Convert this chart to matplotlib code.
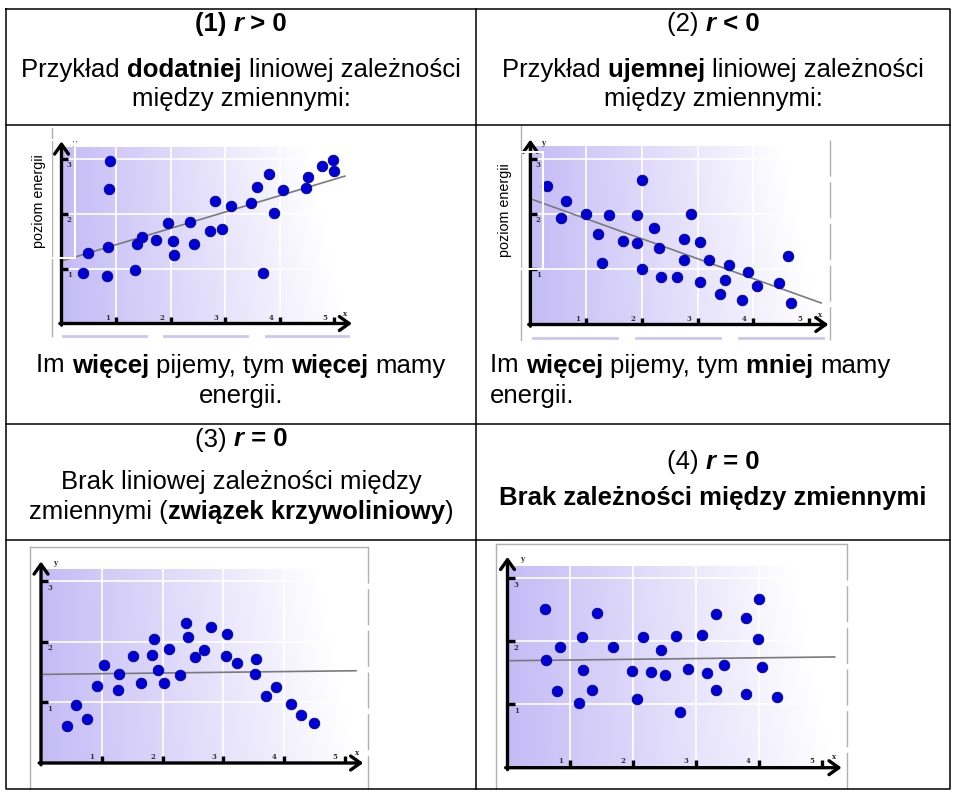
import numpy as np
import matplotlib.pyplot as plt
from matplotlib.lines import Line2D
from matplotlib.patches import Rectangle

plt.rcParams['font.family'] = ['Liberation Sans', 'DejaVu Sans']

# DANE
p1_x = [0.40, 0.49, 0.83, 0.86, 0.89, 0.88, 1.34, 1.38, 1.48, 1.73, 1.95, 2.05, 2.07, 2.36, 2.43,
        2.73, 2.82, 2.94, 3.11, 3.48, 3.58, 3.70, 3.81, 3.90, 4.06, 4.49, 4.52, 4.78, 4.98, 5.00]
p1_y = [0.91, 1.29, 0.87, 1.39, 2.95, 2.45, 0.98, 1.45, 1.58, 1.51, 1.82, 1.50, 1.25, 1.85, 1.45,
        1.68, 2.22, 1.71, 2.13, 2.19, 2.49, 0.92, 2.72, 2.01, 2.43, 2.46, 2.66, 2.87, 2.97, 2.78]
p1_trend_x = [0.0, 5.2]
p1_trend_y = [1.135, 2.68]

p2_x = [0.29, 0.64, 0.55, 1.00, 1.41, 1.21, 1.28, 1.67, 1.92, 1.92, 2.01, 2.01, 2.22, 2.31, 2.35, 2.64,
        2.76, 2.76, 2.88, 3.05, 3.05, 3.20, 3.40, 3.50, 3.56, 3.80, 3.90, 4.07, 4.47, 4.63, 4.68]
p2_y = [2.51, 2.24, 1.93, 2.00, 1.98, 1.64, 1.12, 1.52, 1.98, 1.48, 2.62, 1.00, 1.74, 1.39, 0.86, 0.86,
        1.55, 1.17, 2.00, 1.49, 0.77, 1.16, 0.55, 0.81, 1.08, 0.44, 0.96, 0.70, 0.76, 1.24, 0.39]
p2_trend_x = [0.02, 5.22]
p2_trend_y = [2.27, 0.39]

p3_x = [0.42, 0.57, 0.75, 0.92, 1.03, 1.26, 1.28, 1.52, 1.65, 1.83, 1.86, 1.92, 2.02, 2.11, 2.28,
        2.39, 2.41, 2.53, 2.68, 2.79, 3.04, 3.06, 3.22, 3.52, 3.54, 3.70, 3.87, 4.12, 4.27, 4.49]
p3_y = [0.61, 0.95, 0.72, 1.27, 1.62, 1.20, 1.46, 1.76, 1.31, 1.78, 2.04, 1.53, 1.31, 1.88, 1.45,
        2.30, 2.08, 1.74, 1.86, 2.24, 1.77, 2.13, 1.65, 1.46, 1.72, 1.10, 1.25, 0.97, 0.79, 0.66]
p3_trend_x = [0.04, 5.18]
p3_trend_y = [1.46, 1.52]

p4_x = [0.59, 0.61, 0.83, 0.79, 1.14, 1.18, 1.20, 1.35, 1.43, 1.68, 1.98, 2.06, 2.16, 2.28, 2.44,
        2.51, 2.69, 2.74, 2.87, 3.10, 3.18, 3.32, 3.32, 3.45, 3.79, 3.79, 3.99, 4.00, 4.05, 4.29]
p4_y = [2.50, 1.70, 1.91, 1.21, 1.02, 2.06, 1.54, 1.23, 2.45, 1.91, 1.52, 1.08, 2.07, 1.51, 1.86,
        1.46, 2.08, 0.88, 1.56, 2.09, 1.49, 1.22, 2.43, 1.63, 2.37, 1.17, 2.04, 2.67, 1.59, 1.12]
p4_trend_x = [0.04, 5.21]
p4_trend_y = [1.69, 1.75]

x_ticks = [1, 2, 3, 4, 5]
y_ticks = [1, 2, 3]
y_label = "poziom energii"

N, B, BI = ('normal', 'normal'), ('bold', 'normal'), ('bold', 'italic')
titles = [
    [("(1) ", B), ("r", BI), (" > 0", B)],
    [("(2) ", N), ("r", BI), (" < 0", B)],
    [("(3) ", N), ("r", BI), (" = 0", B)],
    [("(4) ", N), ("r", BI), (" = 0", B)],
]
opis1 = [[("Przykład ", N), ("dodatniej ", B), ("liniowej zależności", N)],
         [("między zmiennymi:", N)]]
opis2 = [[("Przykład ", N), ("ujemnej ", B), ("liniowej zależności", N)],
         [("między zmiennymi:", N)]]
wniosek1 = [[("Im ", N), ("więcej ", B), ("pijemy, tym ", N), ("więcej ", B), ("mamy", N)],
            [("energii.", N)]]
wniosek2 = [[("Im ", N), ("więcej ", B), ("pijemy, tym ", N), ("mniej ", B), ("mamy", N)],
            [("energii.", N)]]
opis3 = [[("Brak liniowej zależności między", N)],
         [("zmiennymi (", N), ("związek krzywoliniowy", B), (")", N)]]
opis4 = [[("Brak zależności między zmiennymi", B)]]

# FIGURA
W, H = 959, 795
fig = plt.figure(figsize=(W / 100, H / 100), dpi=100)
fig.patch.set_facecolor('white')
renderer = fig.canvas.get_renderer()


def fx(px):
    return px / W


def fy(py):
    return 1 - py / H


def linia(xs, ys, **kw):
    fig.add_artist(Line2D([fx(v) for v in xs], [fy(v) for v in ys],
                          transform=fig.transFigure, **kw))


def szerokosc(txt, kw):
    a = fig.text(0, 0, '|' + txt + '|', **kw)
    b = fig.text(0, 0, '||', **kw)
    w = a.get_window_extent(renderer).width - b.get_window_extent(renderer).width
    a.remove()
    b.remove()
    return w


def tekst(segs, x, base, align='center', size=18.5):
    objs, ws = [], []
    for txt, (weight, style) in segs:
        kw = dict(fontsize=size, fontweight=weight, fontstyle=style)
        objs.append(fig.text(0, fy(base), txt, va='baseline', ha='left', **kw))
        ws.append(szerokosc(txt, kw))
    start = x - sum(ws) / 2 if align == 'center' else x
    for o, w in zip(objs, ws):
        o.set_x(fx(start))
        start += w


def wykres(xs, ys, tx, ty, x0, y0, ux, uy, box, gx, gy, xend, ytop):
    l, t, r, b = box
    ax = fig.add_axes([fx(l), fy(b), (r - l) / W, (b - t) / H])
    ax.axis('off')
    # gradient tla
    X, Y = np.meshgrid(np.linspace(0, gx, 300), np.linspace(0, gy, 100))
    tt = np.clip(X / 5.2 * (1 + 0.15 * Y / 3.2), 0, 1)
    c0 = np.array([0.77, 0.735, 0.965])
    img = c0[None, None, :] * (1 - tt[..., None]) + tt[..., None]
    ax.imshow(img, extent=[0, gx, 0, gy], origin='lower', aspect='auto', zorder=0)
    # siatka
    for k in [1, 2, 3, 4]:
        ax.plot([k, k], [0, gy], color='white', lw=1.2, zorder=1)
    for k in y_ticks:
        ax.plot([0, gx], [k, k], color='white', lw=1.2, zorder=1)
    ax.set_xlim((l - x0) / ux, (r - x0) / ux)
    ax.set_ylim((y0 - b) / uy, (y0 - t) / uy)
    # osie ze strzalkami
    strz = dict(arrowstyle='->,head_length=0.7,head_width=0.5', lw=2.4, color='black',
                shrinkA=0, shrinkB=0)
    ax.annotate('', xy=(xend, 0), xytext=(-0.03, 0), arrowprops=strz, annotation_clip=False, zorder=4)
    ax.annotate('', xy=(0, ytop), xytext=(0, -0.03), arrowprops=strz, annotation_clip=False, zorder=4)
    for k in x_ticks:
        ax.plot([k, k], [0, 0.12], color='black', lw=2.4, solid_capstyle='butt', zorder=4)
        ax.text(k - 0.16, 0.1, str(k), fontsize=5, family='DejaVu Serif', weight='bold',
                color='#333333', ha='center', va='center', zorder=4)
    for k in y_ticks:
        ax.plot([0, 0.12], [k, k], color='black', lw=2.4, solid_capstyle='butt', zorder=4)
        ax.text(0.14, k - 0.11, str(k), fontsize=5, family='DejaVu Serif', weight='bold',
                color='#333333', ha='center', va='center', zorder=4)
    ax.text(5.2, 0.17, 'x', fontsize=5, family='DejaVu Serif', weight='bold', color='#333333',
            ha='center', va='center')
    ax.text(0.23, 3.29, 'y', fontsize=5, family='DejaVu Serif', weight='bold', color='#333333',
            ha='center', va='center')
    # linia trendu i punkty
    ax.plot(tx, ty, color='#7a7a7a', lw=1.2, zorder=3)
    ax.scatter(xs, ys, s=58, c='#0000d6', edgecolors='#00008a', linewidths=0.6, zorder=5,
               clip_on=False)
    return ax


wykres(p1_x, p1_y, p1_trend_x, p1_trend_y, 61.5, 323.5, 54.5, 55.0, (53, 128, 362, 334), 5.26, 3.2, 5.33, 3.31)
wykres(p2_x, p2_y, p2_trend_x, p2_trend_y, 530.4, 324.5, 55.7, 55.2, (522, 128, 838, 336), 5.3, 3.22, 5.35, 3.35)
wykres(p3_x, p3_y, p3_trend_x, p3_trend_y, 41.0, 763.0, 60.8, 60.7, (32, 549, 366, 780), 5.15, 3.19, 5.3, 3.32)
wykres(p4_x, p4_y, p4_trend_x, p4_trend_y, 507.5, 767.7, 62.8, 63.3, (498, 546, 845, 785), 5.2, 3.18, 5.32, 3.33)

# ramki i resztki obrazkow
szary = '#b0b0b0'
linia([52, 52], [128, 336], color=szary, lw=1)
linia([521, 521], [126, 340], color=szary, lw=1)
linia([830, 830], [140, 340], color=szary, lw=1, dashes=[26, 4])
linia([30, 30], [547, 789], color=szary, lw=1)
linia([30, 368], [547, 547], color=szary, lw=1)
linia([368, 368], [547, 789], color=szary, lw=1, dashes=[26, 4])
linia([496, 496], [544, 789], color=szary, lw=1)
linia([496, 847], [544, 544], color=szary, lw=1)
linia([847, 847], [544, 789], color=szary, lw=1, dashes=[26, 4])
for a, b_ in [(63, 146), (164, 247), (266, 348)]:
    linia([a, b_], [336, 336], color='#cdc5f3', lw=2)
for a, b_ in [(533, 617), (636, 720), (739, 823)]:
    linia([a, b_], [338, 338], color='#cdc5f3', lw=2)

for (l, t, r, b) in [(51, 140, 75, 258), (520, 152, 543, 269)]:
    fig.add_artist(Rectangle((fx(l), fy(b)), (r - l) / W, (b - t) / H, transform=fig.transFigure,
                             fill=False, edgecolor='white', lw=1.5, zorder=3))
fig.text(fx(38.5), fy(201.5), y_label, rotation=90, fontsize=10.3, ha='center', va='center')
fig.text(fx(505), fy(210), y_label, rotation=90, fontsize=10.3, ha='center', va='center')

# tabela
linia([6, 950, 950, 6, 6], [9, 9, 789, 789, 9], color='black', lw=1.1)
linia([476, 476], [9, 789], color='black', lw=1.1)
for yy in [125, 424, 540]:
    linia([6, 950], [yy, yy], color='black', lw=1.1)

# teksty
tekst(titles[0], 241, 31)
tekst(titles[1], 713, 31)
for i, seg in enumerate(opis1):
    tekst(seg, 241, 76.5 + 29.7 * i)
for i, seg in enumerate(opis2):
    tekst(seg, 713, 76.5 + 29.7 * i)
for i, seg in enumerate(wniosek1):
    tekst(seg, 241, 372.5 + 30 * i)
for i, seg in enumerate(wniosek2):
    tekst(seg, 490, 372.5 + 30 * i, align='left')
tekst(titles[2], 241, 446.5)
for i, seg in enumerate(opis3):
    tekst(seg, 241, 489.3 + 30 * i)
tekst(titles[3], 713, 469.3)
tekst(opis4[0], 713, 505)

fig.savefig('out.png', dpi=100)
